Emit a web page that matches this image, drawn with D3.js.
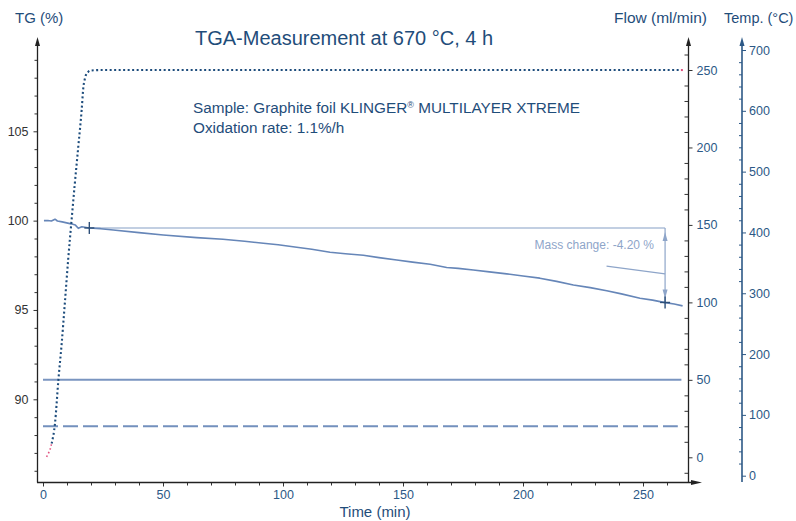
<!DOCTYPE html>
<html><head><meta charset="utf-8">
<script src="https://cdn.jsdelivr.net/npm/d3@7"></script>
<style>
html,body{margin:0;padding:0;background:#fff;}
svg{display:block;font-family:"Liberation Sans",Arial,Helvetica,sans-serif;}
</style></head>
<body><svg id="c" width="796" height="521"></svg>
<script>
// ---- data ----
const tgTime = [0.4,2,3.5,5,6,8,11.7,13.5,14.7,16.2,19.3,24,29.3,40,50.1,64,75,84,91.8,98,105.7,112,119.6,126,133.5,140,147.4,154,161.3,168.2,173,179.3,186,193.2,200,207,214,221,228,234.9,241,248.75,254,259.2,263,266.5];
const tgValue = [100.0,100.01,99.98,100.08,99.98,99.93,99.82,99.75,99.57,99.66,99.59,99.55,99.48,99.33,99.2,99.05,98.96,98.85,98.73,98.65,98.51,98.40,98.23,98.15,98.06,97.93,97.80,97.68,97.56,97.38,97.33,97.24,97.13,97.02,96.90,96.78,96.60,96.40,96.25,96.08,95.90,95.66,95.55,95.41,95.33,95.23];
const tempTime = [1.5,2.9,3.6,5,6.4,7.8,9.2,10.5,11.9,13.2,14.7,16.1,16.8,17.4,17.9,18.8,19.6,23.75,266];
const tempValue = [31,42,53,86,157,218,289,356,420,478,541,601,638,652,659,664,666,667,667];
const flowTime = [0,266];
const flowDashedEnd = 264.5;
const flowSolid = [50,50];
const flowDashed = [20,20];
const markTime = [19.3,259.2];
const markTG = [99.59,95.42];
const xTicks = [0,50,100,150,200,250];
const tgTicks = [90,95,100,105];
const flowTicks = [0,50,100,150,200,250];
const tempTicks = [0,100,200,300,400,500,600,700];
const massChangeLabel = "Mass change: -4.20 %";

// ---- scales ----
const x = d3.scaleLinear().domain([0,250]).range([43,643]);
const yTG = d3.scaleLinear().domain([90,105]).range([399.3,131.3]);
const yFlow = d3.scaleLinear().domain([0,250]).range([457.3,70]);
const yTemp = d3.scaleLinear().domain([0,700]).range([475.7,50]);

const svg = d3.select("#c");
const dark = "#1f4d7a", axisBlue="#2c5886";

function arrow(g, x0, y0, dir, color){
  let p;
  if(dir==="up") p=[[x0,y0],[x0-2.5,y0+9],[x0+2.5,y0+9]];
  else if(dir==="right") p=[[x0,y0],[x0-11,y0-2.5],[x0-11,y0+2.5]];
  else p=[[x0,y0],[x0-2.5,y0-9],[x0+2.5,y0-9]];
  g.append("path").attr("d","M"+p.map(d=>d.join(",")).join("L")+"Z").attr("fill",color);
}
function style(g, color, tcolor){
  g.select(".domain").remove();
  g.selectAll(".tick line").attr("stroke",color).attr("stroke-width",1);
  g.selectAll(".tick text").attr("fill",tcolor).attr("font-size","12.5px").attr("font-family","Liberation Sans, Arial, sans-serif");
}
const range=(a,b,s)=>d3.range(a,b+s/2,s);

// ---- left TG axis ----
const gL = svg.append("g").attr("transform","translate(37.5,0)");
gL.append("g").call(d3.axisLeft(yTG).tickValues(range(86,109,1).filter(v=>!tgTicks.includes(v))).tickSize(3).tickFormat("")).call(g=>style(g,"#333","#333"));
gL.append("g").call(d3.axisLeft(yTG).tickValues(tgTicks).tickSize(4).tickPadding(5)).call(g=>style(g,"#333","#333"));
gL.append("line").attr("y1",482.5).attr("y2",44).attr("stroke","#222").attr("stroke-width",1.3);
arrow(gL,0,37,"up","#222");

// ---- bottom axis ----
const gB = svg.append("g").attr("transform","translate(0,482.5)");
gB.append("g").call(d3.axisBottom(x).tickValues(range(0,260,10).filter(v=>!xTicks.includes(v))).tickSize(3).tickFormat("")).call(g=>style(g,"#333",axisBlue));
gB.append("g").call(d3.axisBottom(x).tickValues(xTicks).tickSize(4).tickPadding(4)).call(g=>style(g,"#333",axisBlue));
gB.append("line").attr("x1",37).attr("x2",694).attr("stroke","#222").attr("stroke-width",1.3);
arrow(gB,702,0,"right","#222");

// ---- flow axis ----
const gF = svg.append("g").attr("transform","translate(688.5,0)");
gF.append("g").call(d3.axisLeft(yFlow).tickValues(range(-10,260,10).filter(v=>!flowTicks.includes(v))).tickSize(4).tickFormat("")).call(g=>style(g,"#333",axisBlue));
gF.append("g").call(d3.axisRight(yFlow).tickValues(flowTicks).tickSize(4).tickPadding(4)).call(g=>style(g,"#333",axisBlue));
gF.append("line").attr("y1",482.5).attr("y2",44).attr("stroke","#222").attr("stroke-width",1.3);
arrow(gF,0,37,"up","#222");

// ---- temp axis ----
const gT = svg.append("g").attr("transform","translate(742,0)");
gT.append("g").call(d3.axisLeft(yTemp).tickValues(range(0,700,20).filter(v=>!tempTicks.includes(v))).tickSize(3).tickFormat("")).call(g=>style(g,axisBlue,axisBlue));
gT.append("g").call(d3.axisRight(yTemp).tickValues(tempTicks).tickSize(4).tickPadding(3)).call(g=>style(g,axisBlue,axisBlue));
gT.append("line").attr("y1",482).attr("y2",44).attr("stroke",axisBlue).attr("stroke-width",1.6);
arrow(gT,0,37,"up",axisBlue);

// ---- flow lines ----
const lineF = d3.line().x(d=>x(d[0])).y(d=>yFlow(d[1]));
svg.append("path").attr("d",lineF(flowTime.map((t,i)=>[t,flowSolid[i]]))).attr("fill","none").attr("stroke","#7a95c0").attr("stroke-width",2);
svg.append("path").attr("d",lineF([[flowTime[0],flowDashed[0]],[flowDashedEnd,flowDashed[1]]])).attr("fill","none").attr("stroke","#7390bd").attr("stroke-width",2).attr("stroke-dasharray","15,5");

// ---- TG reference + annotation ----
const ann = "#8ea5c9";
svg.append("line").attr("x1",x(markTime[0])).attr("x2",x(markTime[1])).attr("y1",yTG(markTG[0])).attr("y2",yTG(markTG[0])).attr("stroke","#aebfd9").attr("stroke-width",1.6);
svg.append("line").attr("x1",x(markTime[1])).attr("x2",x(markTime[1])).attr("y1",yTG(markTG[0])).attr("y2",yTG(markTG[1])).attr("stroke",ann).attr("stroke-width",1.2);
arrow(svg,x(markTime[1]),yTG(markTG[0])+4,"up",ann);
arrow(svg,x(markTime[1]),yTG(markTG[1])-4,"down",ann);
svg.append("line").attr("x1",x(234.8)).attr("y1",yTG(97.45)).attr("x2",x(markTime[1])).attr("y2",yTG(97.02)).attr("stroke",ann).attr("stroke-width",1.2);
svg.append("text").attr("x",654).attr("y",248.5).attr("text-anchor","end").attr("font-size","12px").attr("fill",ann).text(massChangeLabel);

// ---- TG curve ----
svg.append("path").attr("d",d3.line().x((d,i)=>x(tgTime[i])).y(d=>yTG(d))(tgValue)).attr("fill","none").attr("stroke","#6686b8").attr("stroke-width",1.6).attr("stroke-linejoin","round");

// markers
markTime.forEach((t,i)=>{
  const cx=x(t), cy=yTG(markTG[i]);
  svg.append("line").attr("x1",cx-5).attr("x2",cx+5).attr("y1",cy).attr("y2",cy).attr("stroke","#2d4f78").attr("stroke-width",1.4);
  svg.append("line").attr("x1",cx).attr("x2",cx).attr("y1",cy-6).attr("y2",cy+6).attr("stroke","#2d4f78").attr("stroke-width",1.4);
});

// ---- temperature (dotted) ----
const tempPts = tempTime.map((t,i)=>[x(t),yTemp(tempValue[i])]);
svg.append("path").attr("d",d3.line().curve(d3.curveMonotoneX)(tempPts.slice(2))).attr("fill","none").attr("stroke","#1d4c7c").attr("stroke-width",2.1).attr("stroke-dasharray","2,2.5");
svg.append("path").attr("d",d3.line()(tempPts.slice(0,3))).attr("fill","none").attr("stroke","#e0507f").attr("stroke-width",1.6).attr("stroke-dasharray","1.5,2.5");
svg.append("rect").attr("x",x(266)-0.5).attr("y",yTemp(667)-1).attr("width",2).attr("height",2).attr("fill","#e0507f");

// ---- texts ----
const txt=(s,xx,yy,fs,anchor,col)=>svg.append("text").attr("x",xx).attr("y",yy).attr("font-size",fs).attr("text-anchor",anchor||"start").attr("fill",col||dark).text(s);
txt("TG (%)",15,23,"15px");
txt("Flow (ml/min)",614,23,"15.5px");
txt("Temp. (°C)",724,23,"14.5px");
txt("TGA-Measurement at 670 °C, 4 h",195,45,"20px");
const s = svg.append("text").attr("x",193).attr("y",113).attr("font-size","15.3px").attr("fill",dark);
s.append("tspan").text("Sample: Graphite foil KLINGER");
s.append("tspan").attr("font-size","9px").attr("dy",-5).text("®");
s.append("tspan").attr("dy",5).text(" MULTILAYER XTREME");
txt("Oxidation rate: 1.1%/h",193,133,"15.3px");
txt("Time (min)",375,517,"15px","middle");
</script></body></html>
